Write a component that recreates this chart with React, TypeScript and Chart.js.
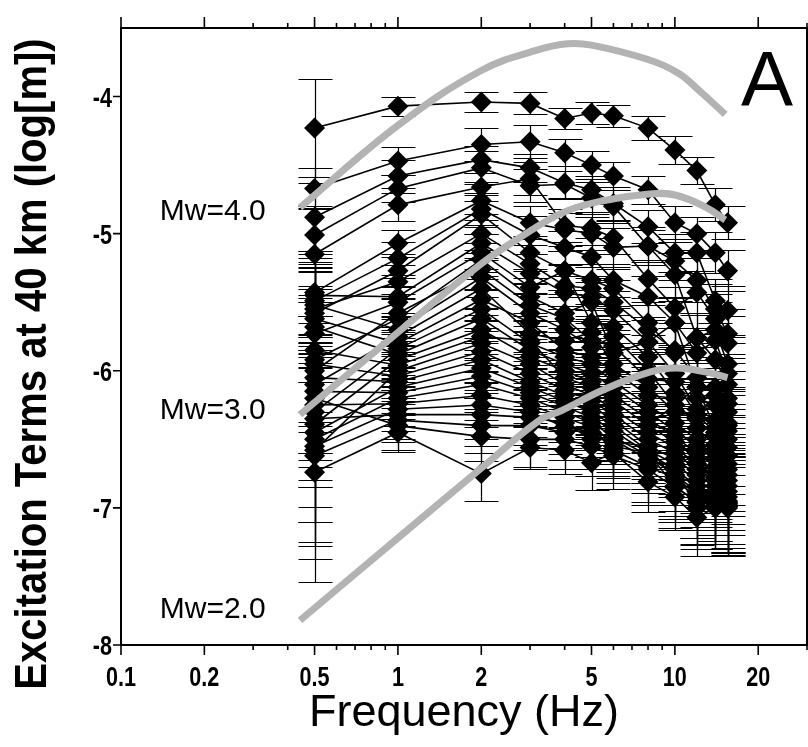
import React, { useEffect, useRef } from 'react';
import { Chart, registerables } from 'chart.js';

Chart.register(...registerables);

// Frequencies (Hz) at which excitation terms are given
const freqs = [0.5, 1, 2, 3, 4, 5, 6, 8, 10, 12, 14, 15.5];

// Excitation terms log10[m], one row per event, one column per frequency
const events: number[][] = [
  [-4.23, -4.07, -4.04, -4.05, -4.16, -4.12, -4.14, -4.23, -4.39, -4.54, -4.79, -4.92],
  [-4.67, -4.47, -4.35, -4.33, -4.41, -4.50, -4.58, -4.68, -4.92, -5.00, -5.14, -5.27],
  [-4.88, -4.58, -4.46, -4.52, -4.63, -4.68, -4.78, -4.95, -5.14, -5.14, -5.49, -5.56],
  [-5.01, -4.67, -4.52, -4.65, -4.64, -4.74, -4.80, -5.09, -5.20, -5.34, -5.55, -5.73],
  [-5.15, -4.79, -4.66, -4.60, -4.94, -4.96, -5.03, -5.33, -5.54, -5.43, -5.62, -5.80],
  [-5.43, -5.07, -4.76, -4.92, -4.97, -5.00, -5.10, -5.09, -5.30, -5.76, -5.70, -5.95],
  [-5.49, -5.18, -4.82, -5.01, -5.10, -5.17, -5.34, -5.46, -5.65, -5.87, -5.78, -6.02],
  [-5.58, -5.27, -4.86, -5.14, -5.27, -5.34, -5.40, -5.65, -5.87, -5.76, -5.92, -6.10],
  [-5.45, -5.46, -5.07, -5.29, -5.43, -5.46, -5.56, -5.79, -5.65, -6.12, -6.12, -6.24],
  [-5.73, -5.50, -5.14, -5.39, -5.27, -5.65, -5.68, -5.90, -6.16, -6.20, -6.25, -6.30],
  [-5.92, -5.62, -5.19, -5.46, -5.58, -5.50, -5.87, -5.79, -6.02, -6.28, -6.36, -6.38],
  [-5.52, -5.70, -5.32, -5.58, -5.70, -5.83, -5.75, -6.00, -6.25, -6.12, -6.42, -6.44],
  [-6.10, -5.75, -5.40, -5.73, -5.78, -5.72, -5.95, -6.12, -6.30, -6.35, -6.48, -6.50],
  [-5.62, -5.80, -5.48, -5.65, -5.85, -5.90, -6.00, -6.18, -6.20, -6.42, -6.54, -6.56],
  [-6.30, -5.84, -5.55, -5.80, -5.90, -5.95, -6.08, -6.25, -6.38, -6.50, -6.60, -6.62],
  [-5.68, -5.88, -5.62, -5.85, -5.95, -6.02, -6.12, -6.30, -6.44, -6.55, -6.64, -6.68],
  [-6.39, -5.92, -5.70, -5.90, -6.00, -6.08, -6.18, -6.35, -6.48, -6.60, -6.70, -6.72],
  [-5.85, -5.96, -5.75, -5.78, -6.05, -6.12, -6.22, -6.40, -6.52, -6.64, -6.74, -6.76],
  [-6.58, -6.00, -5.80, -5.95, -6.10, -6.18, -6.28, -6.45, -6.56, -6.68, -6.78, -6.80],
  [-5.95, -6.04, -5.86, -6.02, -6.14, -6.22, -6.32, -6.50, -6.60, -6.72, -6.80, -6.84],
  [-6.74, -6.45, -6.75, -6.56, -6.58, -6.67, -6.60, -6.81, -6.92, -7.07, -7.00, -7.00],
  [-6.05, -6.08, -5.92, -6.08, -6.18, -6.26, -6.36, -6.55, -6.64, -6.76, -6.84, -6.88],
  [-6.45, -6.12, -5.98, -6.12, -6.22, -6.30, -6.40, -6.58, -6.68, -6.80, -6.88, -6.92],
  [-6.15, -6.16, -6.04, -6.16, -6.26, -6.34, -6.44, -6.60, -6.72, -6.84, -6.90, -6.95],
  [-6.50, -6.20, -6.10, -6.20, -6.30, -6.38, -6.48, -6.62, -6.76, -6.88, -6.92, -6.97],
  [-6.25, -6.24, -6.18, -6.25, -6.34, -6.41, -6.52, -6.55, -6.80, -6.92, -6.94, -6.99],
  [-6.55, -6.28, -6.25, -6.30, -6.41, -6.45, -6.55, -6.60, -6.84, -6.96, -6.96, -6.98],
  [-6.35, -6.32, -6.32, -6.34, -6.38, -6.50, -6.50, -6.65, -6.70, -7.00, -6.98, -6.99],
  [-6.62, -6.36, -6.40, -6.40, -6.45, -6.41, -6.58, -6.70, -6.78, -6.90, -6.92, -6.96],
  [-6.20, -6.40, -6.48, -6.50, -6.50, -6.55, -6.62, -6.72, -6.85, -6.95, -6.90, -6.98],
  [-6.00, -5.58, -5.26, -5.52, -5.62, -5.78, -5.82, -6.06, -6.08, -6.32, -6.45, -6.40],
  [-5.55, -5.35, -5.00, -5.22, -5.38, -5.40, -5.50, -5.70, -5.85, -6.05, -6.18, -6.20],
];

// Error (+/-) of each excitation term, same layout as events
const errors: number[][] = [
  [0.36, 0.07, 0.07, 0.08, 0.08, 0.08, 0.08, 0.09, 0.10, 0.10, 0.12, 0.12],
  [0.15, 0.10, 0.12, 0.12, 0.10, 0.10, 0.10, 0.10, 0.12, 0.12, 0.15, 0.15],
  [0.25, 0.12, 0.10, 0.10, 0.12, 0.10, 0.12, 0.12, 0.14, 0.15, 0.16, 0.18],
  [0.20, 0.10, 0.12, 0.12, 0.10, 0.12, 0.12, 0.12, 0.14, 0.16, 0.18, 0.18],
  [0.35, 0.12, 0.10, 0.12, 0.12, 0.12, 0.12, 0.14, 0.15, 0.16, 0.18, 0.20],
  [0.30, 0.10, 0.14, 0.12, 0.12, 0.12, 0.14, 0.14, 0.16, 0.18, 0.20, 0.20],
  [0.25, 0.12, 0.12, 0.14, 0.12, 0.14, 0.12, 0.15, 0.16, 0.18, 0.20, 0.22],
  [0.40, 0.12, 0.14, 0.12, 0.14, 0.12, 0.14, 0.15, 0.18, 0.18, 0.22, 0.22],
  [0.30, 0.14, 0.12, 0.14, 0.12, 0.14, 0.14, 0.16, 0.18, 0.20, 0.22, 0.24],
  [0.35, 0.12, 0.14, 0.12, 0.14, 0.14, 0.15, 0.16, 0.18, 0.20, 0.22, 0.24],
  [0.45, 0.14, 0.12, 0.14, 0.14, 0.15, 0.14, 0.18, 0.18, 0.22, 0.24, 0.25],
  [0.30, 0.12, 0.14, 0.14, 0.15, 0.14, 0.16, 0.16, 0.20, 0.20, 0.24, 0.26],
  [0.50, 0.14, 0.14, 0.15, 0.14, 0.16, 0.15, 0.18, 0.20, 0.22, 0.25, 0.26],
  [0.35, 0.12, 0.15, 0.14, 0.16, 0.14, 0.16, 0.18, 0.20, 0.22, 0.26, 0.28],
  [0.55, 0.14, 0.14, 0.16, 0.15, 0.16, 0.16, 0.18, 0.22, 0.24, 0.26, 0.28],
  [0.40, 0.15, 0.16, 0.14, 0.16, 0.15, 0.18, 0.20, 0.20, 0.24, 0.28, 0.30],
  [0.60, 0.14, 0.15, 0.16, 0.16, 0.18, 0.16, 0.20, 0.22, 0.24, 0.28, 0.30],
  [0.45, 0.15, 0.16, 0.15, 0.18, 0.16, 0.18, 0.20, 0.22, 0.26, 0.28, 0.30],
  [0.70, 0.14, 0.16, 0.18, 0.16, 0.18, 0.18, 0.22, 0.24, 0.26, 0.30, 0.32],
  [0.50, 0.16, 0.15, 0.16, 0.18, 0.18, 0.20, 0.22, 0.24, 0.26, 0.30, 0.32],
  [0.80, 0.14, 0.20, 0.16, 0.17, 0.20, 0.18, 0.22, 0.24, 0.28, 0.30, 0.35],
  [0.55, 0.16, 0.16, 0.18, 0.18, 0.20, 0.20, 0.22, 0.26, 0.28, 0.30, 0.32],
  [0.65, 0.15, 0.18, 0.16, 0.20, 0.18, 0.20, 0.24, 0.24, 0.28, 0.32, 0.34],
  [0.50, 0.16, 0.16, 0.18, 0.18, 0.20, 0.22, 0.22, 0.26, 0.30, 0.30, 0.34],
  [0.60, 0.15, 0.18, 0.18, 0.20, 0.20, 0.20, 0.24, 0.26, 0.28, 0.32, 0.35],
  [0.45, 0.16, 0.18, 0.16, 0.18, 0.22, 0.22, 0.24, 0.28, 0.30, 0.32, 0.34],
  [0.70, 0.16, 0.16, 0.18, 0.20, 0.20, 0.22, 0.26, 0.26, 0.30, 0.34, 0.35],
  [0.50, 0.18, 0.18, 0.20, 0.18, 0.22, 0.22, 0.24, 0.28, 0.30, 0.32, 0.36],
  [0.75, 0.16, 0.20, 0.18, 0.20, 0.22, 0.24, 0.26, 0.28, 0.32, 0.34, 0.36],
  [0.60, 0.18, 0.18, 0.20, 0.22, 0.22, 0.24, 0.26, 0.30, 0.32, 0.34, 0.36],
  [0.40, 0.14, 0.14, 0.15, 0.16, 0.16, 0.18, 0.20, 0.22, 0.24, 0.26, 0.28],
  [0.30, 0.12, 0.14, 0.14, 0.15, 0.16, 0.16, 0.18, 0.20, 0.22, 0.24, 0.26],
];

// Model source spectra (gray curves)
const mw4Freq = [0.443, 1, 2, 3.2, 4.1, 5, 8, 10.3, 12.3, 15.2];
const mw4Val = [-4.81, -4.21, -3.81, -3.66, -3.615, -3.625, -3.73, -3.83, -3.96, -4.13];
const mw3Freq = [0.443, 1, 2, 2.75, 3.9, 5.5, 8.1, 10.1, 13, 15.2];
const mw3Val = [-6.32, -5.72, -5.22, -5.03, -4.85, -4.76, -4.71, -4.72, -4.81, -4.9];
const mw2Freq = [0.443, 1, 2, 3.25, 3.9, 5.5, 8.1, 10.1, 13, 15.5];
const mw2Val = [-7.82, -7.22, -6.71, -6.36, -6.29, -6.14, -6.01, -5.98, -6.01, -6.05];

const xMajorTicks = [0.1, 0.2, 0.5, 1, 2, 5, 10, 20];
const xMinorTicks = [0.3, 0.4, 0.6, 0.7, 0.8, 0.9, 3, 4, 6, 7, 8, 9, 30];
const yTicks = [-8, -7, -6, -5, -4];

const mwLabels = ['Mw=4.0', 'Mw=3.0', 'Mw=2.0'];
const panelLabel = 'A';
const xTitle = 'Frequency (Hz)';
const yTitle = 'Excitation Terms at 40 km (log[m])';

const FONT = '"Liberation Sans", Arial, Helvetica, sans-serif';

export default function App() {
  const ref = useRef<HTMLCanvasElement>(null);

  useEffect(() => {
    const canvas = ref.current;
    if (!canvas) return;

    const errorBars = {
      id: 'errorBars',
      beforeDatasetsDraw(chart: any) {
        const { ctx, chartArea } = chart;
        const x = chart.scales.x;
        const y = chart.scales.y;
        ctx.save();
        ctx.beginPath();
        ctx.rect(chartArea.left, chartArea.top, chartArea.right - chartArea.left, chartArea.bottom - chartArea.top);
        ctx.clip();
        ctx.strokeStyle = '#000';
        ctx.lineWidth = 1.2;
        const cap = 17;
        events.forEach((ev, i) => {
          ev.forEach((v, j) => {
            const e = errors[i][j];
            const px = Math.round(x.getPixelForValue(freqs[j])) + 0.5;
            const t = Math.round(y.getPixelForValue(v + e)) + 0.5;
            const b = Math.round(y.getPixelForValue(v - e)) + 0.5;
            ctx.beginPath();
            ctx.moveTo(px, t);
            ctx.lineTo(px, b);
            ctx.moveTo(px - cap, t);
            ctx.lineTo(px + cap, t);
            ctx.moveTo(px - cap, b);
            ctx.lineTo(px + cap, b);
            ctx.stroke();
          });
        });
        ctx.restore();
      },
    };

    const condensedText = (ctx: any, text: string, x: number, y: number, sx: number) => {
      ctx.save();
      ctx.translate(x, y);
      ctx.scale(sx, 1);
      ctx.fillText(text, 0, 0);
      ctx.restore();
    };

    const frame = {
      id: 'frame',
      afterDraw(chart: any) {
        const { ctx, chartArea } = chart;
        const x = chart.scales.x;
        const y = chart.scales.y;
        const { left, right, top, bottom } = chartArea;
        ctx.save();
        ctx.strokeStyle = '#000';
        ctx.lineWidth = 2;
        ctx.beginPath();
        ctx.rect(left, top, right - left, bottom - top);
        ctx.stroke();
        ctx.lineWidth = 1.6;
        ctx.beginPath();
        xMajorTicks.forEach((v) => {
          const px = x.getPixelForValue(v);
          ctx.moveTo(px, bottom);
          ctx.lineTo(px, bottom + 10);
          ctx.moveTo(px, top);
          ctx.lineTo(px, top - 11);
        });
        xMinorTicks.forEach((v) => {
          const px = x.getPixelForValue(v);
          ctx.moveTo(px, bottom);
          ctx.lineTo(px, bottom + 5);
          ctx.moveTo(px, top);
          ctx.lineTo(px, top - 5);
        });
        yTicks.forEach((v) => {
          const py = y.getPixelForValue(v);
          ctx.moveTo(left, py);
          ctx.lineTo(left - 8, py);
          ctx.moveTo(right, py);
          ctx.lineTo(right + 8, py);
        });
        ctx.stroke();

        ctx.fillStyle = '#000';
        ctx.textBaseline = 'alphabetic';
        // tick labels (narrow bold)
        ctx.font = `bold 27px ${FONT}`;
        ctx.textAlign = 'center';
        xMajorTicks.forEach((v) => {
          condensedText(ctx, String(v), x.getPixelForValue(v), 686, 0.8);
        });
        ctx.textAlign = 'right';
        yTicks.forEach((v) => {
          condensedText(ctx, String(v), left - 9, y.getPixelForValue(v) + 10, 0.8);
        });

        // Mw labels
        ctx.font = `30px ${FONT}`;
        ctx.textAlign = 'left';
        const mwX = x.getPixelForValue(0.138);
        const mwY = [-4.9, -6.35, -7.8];
        mwLabels.forEach((t, i) => ctx.fillText(t, mwX, y.getPixelForValue(mwY[i])));
        // Panel label
        ctx.font = `78px ${FONT}`;
        ctx.fillText(panelLabel, 741, 106);
        // X title
        ctx.font = `45px ${FONT}`;
        ctx.textAlign = 'center';
        ctx.fillText(xTitle, (left + right) / 2, 726);
        // Y title
        ctx.font = `bold 45px ${FONT}`;
        ctx.translate(46, 364);
        ctx.rotate(-Math.PI / 2);
        ctx.scale(0.89, 1);
        ctx.fillText(yTitle, 0, 0);
        ctx.restore();
      },
    };

    const curve = (fs: number[], vs: number[]) => ({
      type: 'line' as const,
      data: fs.map((f, i) => ({ x: f, y: vs[i] })),
      borderColor: '#b3b3b3',
      borderWidth: 7,
      borderCapStyle: 'butt' as const,
      pointRadius: 0,
      tension: 0.4,
      fill: false,
    });

    const eventSets = events.map((ev) => ({
      type: 'line' as const,
      data: ev.map((v, j) => ({ x: freqs[j], y: v })),
      borderColor: '#000',
      borderWidth: 1.6,
      pointStyle: 'rectRot' as const,
      pointRadius: 10.5,
      pointBackgroundColor: '#000',
      pointBorderWidth: 0,
      tension: 0,
      fill: false,
    }));

    const chart = new Chart(canvas, {
      type: 'line',
      data: {
        datasets: [curve(mw4Freq, mw4Val), curve(mw3Freq, mw3Val), curve(mw2Freq, mw2Val), ...eventSets] as any,
      },
      options: {
        animation: false,
        responsive: false,
        devicePixelRatio: 1,
        layout: { autoPadding: false, padding: { top: 28, right: 1, left: 0, bottom: 0 } },
        plugins: { legend: { display: false }, tooltip: { enabled: false }, title: { display: false } },
        events: [],
        scales: {
          x: {
            type: 'logarithmic',
            min: 0.1,
            max: 30,
            grid: { display: false },
            border: { display: false },
            afterFit: (s: any) => {
              s.height = 102;
              s.paddingLeft = 0;
              s.paddingRight = 0;
            },
            afterBuildTicks: (s: any) => {
              s.ticks = [...xMajorTicks, ...xMinorTicks].sort((a, b) => a - b).map((v) => ({ value: v }));
            },
            ticks: { display: false },
          },
          y: {
            type: 'linear',
            min: -8,
            max: -3.5,
            grid: { display: false },
            border: { display: false },
            afterFit: (s: any) => {
              s.width = 121;
              s.paddingTop = 0;
              s.paddingBottom = 0;
            },
            afterBuildTicks: (s: any) => {
              s.ticks = yTicks.map((v) => ({ value: v }));
            },
            ticks: { display: false },
          },
        },
      } as any,
      plugins: [errorBars, frame],
    });

    return () => chart.destroy();
  }, []);

  return (
    <div style={{ position: 'absolute', left: 0, top: 0, width: 808, height: 747, background: '#fff' }}>
      <canvas ref={ref} width={808} height={747} style={{ display: 'block' }} />
    </div>
  );
}
